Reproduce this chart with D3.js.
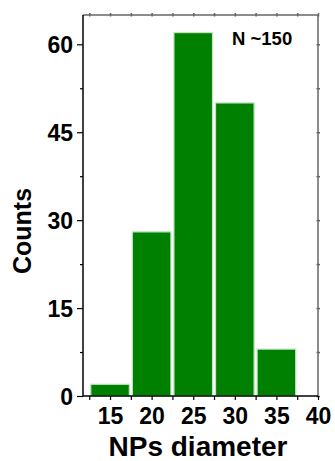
<!DOCTYPE html>
<html><head><meta charset="utf-8">
<script src="https://cdn.jsdelivr.net/npm/d3@7"></script>
<style>body{margin:0;background:#fff}svg{display:block}text{font-family:"Liberation Sans",Arial,sans-serif;font-weight:bold}</style>
</head><body>
<script>
const binStart = [12.5, 17.5, 22.5, 27.5, 32.5];
const binEnd   = [17.5, 22.5, 27.5, 32.5, 37.5];
const counts   = [2, 28, 62, 50, 8];
const xTickLabels = [15, 20, 25, 30, 35, 40];
const yTickLabels = [0, 15, 30, 45, 60];
const xMinorTicks = [12.5, 15, 17.5, 20, 22.5, 25, 27.5, 30, 32.5, 35, 37.5, 40];
const yMinorTicks = [7.5, 22.5, 37.5, 52.5];

const W = 335, H = 461;
const L = 83, R = 318, T = 15, B = 396;
const svg = d3.select("body").append("svg").attr("width", W).attr("height", H);
const x = d3.scaleLinear().domain([11.75, 40]).range([L, R]);
const y = d3.scaleLinear().domain([0, 65]).range([B, T]);

// bars
svg.selectAll("rect.bar").data(counts).enter().append("rect")
  .attr("x", (d,i) => x(binStart[i]) + 1.5)
  .attr("width", (d,i) => x(binEnd[i]) - x(binStart[i]) - 3)
  .attr("y", d => y(d))
  .attr("height", d => B - y(d))
  .attr("fill", "#008000")
  .attr("stroke", "#c0e6c0").attr("stroke-width", 1.2);

// top & right gray frame
svg.append("line").attr("x1", L).attr("x2", R).attr("y1", T).attr("y2", T).attr("stroke", "#666").attr("stroke-width", 1.5);
svg.append("line").attr("x1", R).attr("x2", R).attr("y1", T).attr("y2", B).attr("stroke", "#666").attr("stroke-width", 1.5);
// top ticks
svg.append("g").attr("transform", `translate(0,${T})`)
  .call(d3.axisTop(x).tickValues(xMinorTicks).tickSize(2).tickFormat(""))
  .call(g => g.select(".domain").remove())
  .call(g => g.selectAll("line").attr("stroke", "#666").attr("stroke-width", 1.5).attr("y1", 1.5));
// right ticks
svg.append("g").attr("transform", `translate(${R},0)`)
  .call(d3.axisRight(y).tickValues(yTickLabels.concat(yMinorTicks)).tickSize(2).tickFormat(""))
  .call(g => g.select(".domain").remove())
  .call(g => g.selectAll("line").attr("stroke", "#666").attr("stroke-width", 1.5).attr("x1", -1.5));

// bottom axis
const xa = svg.append("g").attr("transform", `translate(0,${B})`)
  .call(d3.axisBottom(x).tickValues(xMinorTicks).tickSize(4)
        .tickFormat(d => xTickLabels.includes(d) ? d : ""));
xa.select(".domain").attr("d", `M${L},0H${R}`).attr("stroke", "#000").attr("stroke-width", 1.5);
xa.selectAll("line").attr("stroke", "#000").attr("stroke-width", 1.2);
xa.selectAll("text").attr("font-size", 23).attr("fill", "#000").attr("y", 11.5).attr("dy", "0.71em");

// left axis
const ya = svg.append("g").attr("transform", `translate(${L},0)`)
  .call(d3.axisLeft(y).tickValues(yTickLabels).tickSize(6).tickPadding(4));
ya.select(".domain").attr("d", `M0,${B}V${T}`).attr("stroke", "#000").attr("stroke-width", 1.5);
ya.selectAll("line").attr("stroke", "#000").attr("stroke-width", 1.2);
ya.selectAll("text").attr("font-size", 23).attr("fill", "#000").attr("x", -10).attr("dy", "0.36em");
svg.append("g").attr("transform", `translate(${L},0)`)
  .call(d3.axisLeft(y).tickValues(yMinorTicks).tickSize(3).tickFormat(""))
  .call(g => g.select(".domain").remove())
  .call(g => g.selectAll("line").attr("stroke", "#000").attr("stroke-width", 1.2));

// labels
svg.append("text").attr("x", 198).attr("y", 456).attr("text-anchor", "middle")
  .attr("font-size", 28).text("NPs diameter");
svg.append("text").attr("transform", "translate(31,231) rotate(-90)").attr("text-anchor", "middle")
  .attr("font-size", 25).text("Counts");
svg.append("text").attr("x", 232).attr("y", 45).attr("font-size", 18.5).text("N ~150");
</script>
</body></html>
